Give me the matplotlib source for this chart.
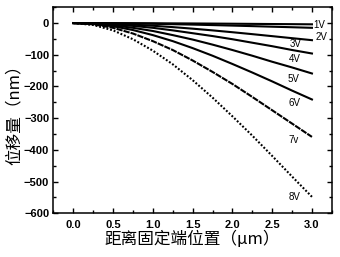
import matplotlib
matplotlib.use('Agg')
import matplotlib.pyplot as plt
from matplotlib.ticker import MultipleLocator

# Posição ao longo da viga (µm) e deslocamento (nm) para cada tensão
x_um = [0.0, 0.25, 0.5, 0.75, 1.0, 1.25, 1.5, 1.75, 2.0, 2.25, 2.5, 2.75, 3.0]
d_1v = [0, -0.04, -0.2, -0.4, -0.6, -1.0, -1.3, -1.7, -2.1, -2.6, -3.1, -3.5, -4]
d_2v = [0, -0.2, -0.6, -1.4, -2.4, -3.6, -4.9, -6.4, -8.0, -9.7, -11.5, -13.2, -15]
d_3v = [0, -0.6, -2.3, -5.0, -8.5, -12.8, -17.7, -23.1, -28.9, -35.0, -41.3, -47.7, -54]
d_4v = [0, -1, -4, -9, -15, -23, -32, -41, -51, -62, -73, -85, -96]
d_5v = [0, -2, -7, -15, -25, -38, -52, -68, -85, -103, -122, -140, -159]
d_6v = [0, -3, -10, -22, -38, -57, -79, -103, -129, -156, -184, -213, -241]
d_7v = [0, -4, -15, -33, -57, -85, -118, -154, -192, -233, -275, -317, -359]
d_8v = [0, -6, -23, -51, -87, -130, -180, -235, -294, -355, -419, -484, -548]

series = [d_1v, d_2v, d_3v, d_4v, d_5v, d_6v, d_7v, d_8v]
rotulos = ['1V', '2V', '3V', '4V', '5V', '6V', '7v', '8V']
# posição dos rótulos (coordenadas de dados)
rot_x = [3.02, 3.04, 2.79, 2.79, 2.77, 2.78, 2.77, 2.78]
rot_y = [-6, -44, -65, -112, -175, -252, -369, -549]
rot_ha = ['left', 'left', 'center', 'center', 'center', 'center', 'center', 'center']

cjk = ['Noto Sans CJK SC', 'DejaVu Sans']

fig = plt.figure(figsize=(3.4, 2.57), dpi=100)
ax = fig.add_axes([0.157, 0.170, 0.819, 0.802])

estilos = ['-', '-', '-', '-', '-', '-', (0, (3, 0.5)), (0, (0.9, 0.9))]
for d, ls in zip(series, estilos):
    ax.plot(x_um, d, color='black', lw=1.5, linestyle=ls)

for txt, tx, ty, ha in zip(rotulos, rot_x, rot_y, rot_ha):
    ax.text(tx, ty, txt, ha=ha, va='center', fontsize=7,
            family='Liberation Sans')

ax.set_xlim(-0.25, 3.25)
ax.set_ylim(-600, 50)
ax.xaxis.set_major_locator(MultipleLocator(0.5))
ax.xaxis.set_minor_locator(MultipleLocator(0.25))
ax.yaxis.set_major_locator(MultipleLocator(100))
ax.yaxis.set_minor_locator(MultipleLocator(50))
ax.tick_params(which='both', direction='in', top=True, right=True, width=1.0)
ax.tick_params(which='major', length=3.5)
ax.tick_params(which='minor', length=2)
ax.tick_params(axis='y', pad=3)
ax.tick_params(axis='x', pad=5)
for s in ax.spines.values():
    s.set_linewidth(1.1)

for lab in ax.get_xticklabels() + ax.get_yticklabels():
    lab.set_family('Liberation Sans')
    lab.set_fontweight('bold')
    lab.set_fontsize(8)

ax.set_xlabel('距离固定端位置（μm）', family=cjk, fontsize=12, labelpad=0)
ax.set_ylabel('位移量（nm）', family=cjk, fontsize=12, labelpad=1)

fig.savefig('out.png', dpi=100)
